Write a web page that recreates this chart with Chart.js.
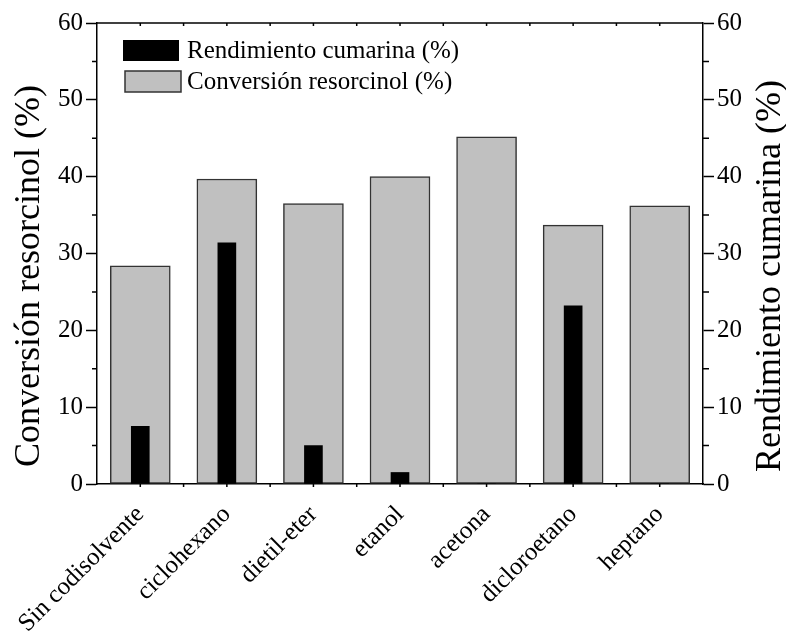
<!DOCTYPE html>
<html>
<head>
<meta charset="utf-8">
<script src="https://cdn.jsdelivr.net/npm/chart.js@4.4.1/dist/chart.umd.min.js"></script>
<style>
  html, body { margin: 0; padding: 0; background: #fff; }
  #wrap { width: 786px; height: 632px; }
</style>
</head>
<body>
<div id="wrap"><canvas id="c" width="786" height="632"></canvas></div>
<script>
// Solvent screening: resorcinol conversion and coumarin yield per co-solvent
const categories = ['Sin codisolvente', 'ciclohexano', 'dietil-eter', 'etanol', 'acetona', 'dicloroetano', 'heptano'];
const rendimientoCumarina = [7.5, 31.4, 5.0, 1.5, 0, 23.2, 0];
const conversionResorcinol = [28.4, 39.7, 36.5, 40.0, 45.2, 33.7, 36.2];
const axisMin = 0, axisMax = 60, majorStep = 10, minorStep = 5;
const leftTitle = 'Conversión resorcinol (%)';
const rightTitle = 'Rendimiento cumarina (%)';

const SERIF = '"Liberation Serif", "Times New Roman", serif';

// Box frame, minor ticks, legend and rotated axis titles
const decorations = {
  id: 'decorations',
  afterDraw(chart) {
    const { ctx, chartArea: a, scales } = chart;
    const y = scales.y, y2 = scales.y2, x = scales.x;
    ctx.save();
    ctx.strokeStyle = '#000';
    ctx.lineWidth = 1.5;
    // top frame line
    ctx.beginPath();
    ctx.moveTo(a.left, a.top);
    ctx.lineTo(a.right, a.top);
    ctx.stroke();
    // minor ticks on both value axes
    ctx.beginPath();
    for (let v = axisMin + minorStep; v < axisMax; v += majorStep) {
      const py = y.getPixelForValue(v);
      ctx.moveTo(a.left, py); ctx.lineTo(a.left - 5, py);
      const py2 = y2.getPixelForValue(v);
      ctx.moveTo(a.right, py2); ctx.lineTo(a.right + 6, py2);
    }
    // category ticks (centres and midpoints) on bottom and top
    for (let i = 0; i < categories.length; i++) {
      const cx = x.getPixelForValue(i);
      const pts = [cx];
      if (i < categories.length - 1) pts.push((cx + x.getPixelForValue(i + 1)) / 2);
      for (const px of pts) {
        ctx.moveTo(px, a.bottom); ctx.lineTo(px, a.bottom + 3);
        ctx.moveTo(px, a.top); ctx.lineTo(px, a.top + 3);
      }
    }
    ctx.stroke();

    // legend
    const ds = chart.data.datasets;
    ctx.font = '25px ' + SERIF;
    ctx.textBaseline = 'middle';
    ctx.textAlign = 'left';
    const lx = a.left + 26, ly = a.top + 17;
    ds.forEach((d, i) => {
      const bx = lx + (i === 0 ? 0 : 2), by = ly + i * 31;
      ctx.fillStyle = d.backgroundColor;
      ctx.fillRect(bx, by, 56, 21);
      if (d.borderWidth) {
        ctx.strokeStyle = d.borderColor;
        ctx.lineWidth = d.borderWidth;
        ctx.strokeRect(bx, by, 56, 21);
      }
      ctx.fillStyle = '#000';
      ctx.fillText(d.label, lx + 64, by + 11);
    });

    // axis titles
    ctx.font = '36px ' + SERIF;
    ctx.textAlign = 'center';
    ctx.textBaseline = 'middle';
    ctx.fillStyle = '#000';
    const midY = 276;
    ctx.save();
    ctx.translate(30, midY);
    ctx.rotate(-Math.PI / 2);
    ctx.fillText(leftTitle, 0, 0);
    ctx.restore();
    ctx.save();
    ctx.translate(771, midY);
    ctx.rotate(-Math.PI / 2);
    ctx.fillText(rightTitle, 0, 0);
    ctx.restore();
    ctx.restore();
  }
};

const valueTicks = {
  min: axisMin, max: axisMax,
  border: { display: true, color: '#000', width: 1.5 },
  grid: { display: true, drawOnChartArea: false, drawTicks: true, tickLength: 11, tickColor: '#000', tickWidth: 1.5 },
  ticks: { stepSize: majorStep, color: '#000', font: { family: SERIF, size: 25 }, padding: 3 }
};

new Chart(document.getElementById('c'), {
  type: 'bar',
  data: {
    labels: categories,
    datasets: [
      {
        label: 'Rendimiento cumarina (%)',
        data: rendimientoCumarina,
        yAxisID: 'y2',
        backgroundColor: '#000000',
        borderWidth: 0,
        barThickness: 18,
        grouped: false,
        order: 0
      },
      {
        label: 'Conversión resorcinol (%)',
        data: conversionResorcinol,
        yAxisID: 'y',
        backgroundColor: '#c0c0c0',
        borderColor: '#333333',
        borderWidth: 1.5,
        borderSkipped: false,
        barThickness: 60,
        grouped: false,
        order: 1
      }
    ]
  },
  options: {
    responsive: false,
    animation: false,
    devicePixelRatio: 1,
    layout: { padding: { top: 23, left: 0, right: 0, bottom: 0 } },
    plugins: { legend: { display: false }, tooltip: { enabled: false }, title: { display: false } },
    scales: {
      x: {
        border: { display: true, color: '#000', width: 1.5 },
        grid: { display: false, drawTicks: false },
        ticks: {
          color: '#000', font: { family: SERIF, size: 25 },
          minRotation: 45, maxRotation: 45, padding: 16, autoSkip: false
        },
        afterFit(s) { s.height = 148; }
      },
      y: Object.assign({ position: 'left', afterFit(s) { s.width = 97; } }, valueTicks),
      y2: Object.assign({ position: 'right', afterFit(s) { s.width = 83; } }, valueTicks)
    }
  },
  plugins: [decorations]
});
</script>
</body>
</html>
